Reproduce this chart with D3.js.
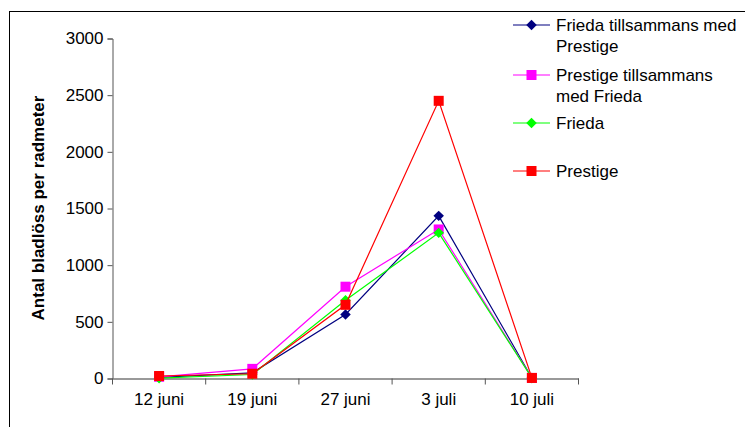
<!DOCTYPE html>
<head>
  <meta charset="utf-8">
  <script src="https://d3js.org/d3.v7.min.js"></script>
  <style>
    body { margin:0; background:#fff; }
    svg { display:block; font-family: "Liberation Sans", Arial, sans-serif; }
  </style>
</head>
<body>
<script>
  // data
  var dates = ["12 juni", "19 juni", "27 juni", "3 juli", "10 juli"];
  var seriesNames = ["Frieda tillsammans med Prestige", "Prestige tillsammans med Frieda", "Frieda", "Prestige"];
  var friedaMedPrestige = [10, 50, 565, 1435, 5];
  var prestigeMedFrieda = [15, 85, 810, 1315, 5];
  var frieda = [3, 35, 690, 1285, 5];
  var prestige = [22, 42, 650, 2450, 5];
  var yTicks = [0, 500, 1000, 1500, 2000, 2500, 3000];

  var colors = ["#000080", "#ff00ff", "#00ff00", "#ff0000"];
  var shapes = ["diamond", "square", "diamond", "square"];
  var allValues = [friedaMedPrestige, prestigeMedFrieda, frieda, prestige];

  var width = 745, height = 427;
  var svg = d3.select("body").append("svg")
    .attr("width", width).attr("height", height);

  // outer frame
  svg.append("rect")
    .attr("x", 9.5).attr("y", 11.5)
    .attr("width", 760).attr("height", 440)
    .attr("fill", "none").attr("stroke", "#000").attr("stroke-width", 1);

  var x = d3.scaleBand().domain(dates).range([112.5, 578.5]);
  var y = d3.scaleLinear().domain([0, 3000]).range([378.5, 38.5]);

  // y axis
  var yAxis = svg.append("g")
    .attr("transform", "translate(112.5,0)")
    .call(d3.axisLeft(y).tickValues(yTicks).tickFormat(d3.format("d")).tickSize(5).tickPadding(4));
  yAxis.select(".domain").attr("stroke", "#555");
  yAxis.selectAll(".tick line").attr("stroke", "#555");
  yAxis.selectAll("text").attr("font-size", 17).attr("fill", "#000")
    .attr("font-family", "Liberation Sans, Arial, sans-serif");

  // x axis, ticks between categories
  var xAxis = svg.append("g")
    .attr("transform", "translate(0,378.5)")
    .call(d3.axisBottom(x).tickSize(0).tickPadding(14));
  xAxis.select(".domain").attr("stroke", "#777").attr("stroke-width", 1.5);
  xAxis.selectAll("text").attr("font-size", 17).attr("fill", "#000")
    .attr("font-family", "Liberation Sans, Arial, sans-serif");
  xAxis.selectAll(".bound").data(dates.concat(["end"])).enter().append("line")
    .attr("x1", function(d, i) { return x.range()[0] + i * x.bandwidth(); })
    .attr("x2", function(d, i) { return x.range()[0] + i * x.bandwidth(); })
    .attr("y1", 0).attr("y2", 6)
    .attr("stroke", "#555");

  // y title
  svg.append("text")
    .attr("transform", "translate(44,208) rotate(-90)")
    .attr("text-anchor", "middle")
    .attr("font-size", 17).attr("font-weight", "bold")
    .text("Antal bladlöss per radmeter");

  var cx = function(d, i) { return x(dates[i]) + x.bandwidth() / 2; };
  var line = d3.line().x(cx).y(function(d) { return y(d); });

  function marker(g, shape, color, px, py) {
    if (shape == "square") {
      g.append("rect").attr("x", px - 5).attr("y", py - 5)
        .attr("width", 10).attr("height", 10).attr("fill", color);
    } else {
      g.append("path")
        .attr("d", d3.symbol().type(d3.symbolDiamond2).size(70)())
        .attr("transform", "translate(" + px + "," + py + ")")
        .attr("fill", color);
    }
  }

  allValues.forEach(function(vals, s) {
    var g = svg.append("g");
    g.append("path").datum(vals)
      .attr("d", line)
      .attr("fill", "none").attr("stroke", colors[s]).attr("stroke-width", 1.2);
    vals.forEach(function(v, i) {
      marker(g, shapes[s], colors[s], cx(v, i), y(v));
    });
  });

  // legend
  var legendRows = [
    { y: 25, lines: ["Frieda tillsammans med", "Prestige"] },
    { y: 75, lines: ["Prestige tillsammans", "med Frieda"] },
    { y: 123, lines: ["Frieda"] },
    { y: 171, lines: ["Prestige"] }
  ];
  legendRows.forEach(function(r, s) {
    var g = svg.append("g").attr("title", seriesNames[s]);
    g.append("line").attr("x1", 513).attr("x2", 550)
      .attr("y1", r.y).attr("y2", r.y)
      .attr("stroke", colors[s]).attr("stroke-width", 1.2);
    marker(g, shapes[s], colors[s], 531.5, r.y);
    r.lines.forEach(function(t, k) {
      g.append("text").attr("x", 556).attr("y", r.y + k * 21)
        .attr("dy", "0.35em").attr("font-size", 17).text(t);
    });
  });
</script>
</body>
